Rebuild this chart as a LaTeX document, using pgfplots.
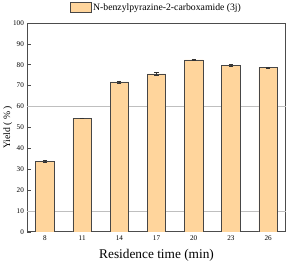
\documentclass[border=0pt]{standalone}
\usepackage{pgfplots}
\pgfplotsset{compat=1.18}
\usepackage{fontspec}
\setmainfont{Liberation Serif}
\definecolor{barfill}{RGB}{255,213,156}
\definecolor{baredge}{RGB}{70,70,70}
\begin{document}
\begin{tikzpicture}
\begin{axis}[
  scale only axis,
  width=252pt, height=204pt,
  xmin=-0.47, xmax=6.47,
  ymin=0, ymax=100,
  ytick={0,10,...,100},
  xtick={0,1,2,3,4,5,6},
  xticklabels={8,11,14,17,20,23,26},
  major x tick style={draw=none},
  tick align=inside,
  major tick length=3pt,
  ytick pos=left,
  axis line style={draw=black!70, line width=0.8pt},
  tick style={black!70, line width=0.6pt},
  tick label style={font=\fontsize{7}{8}\selectfont},
  /pgf/number format/assume math mode=true,
  xlabel={Residence time (min)},
  ylabel={Yield ( \% )},
  xlabel style={font=\fontsize{13}{15}\selectfont, yshift=-2pt},
  ylabel style={font=\fontsize{9.5}{11}\selectfont, yshift=-6pt},
  extra y ticks={10,60},
  extra y tick labels={},
  extra y tick style={grid=major, major grid style={gray!50, line width=0.5pt}, major tick length=0pt},
  legend style={at={(0.5,1.03)}, anchor=south, draw=none, fill=none,
    font=\fontsize{9.5}{11}\selectfont, legend columns=1},
  legend image code/.code={\draw[#1, draw=baredge] (0cm,-0.14cm) rectangle (0.7cm,0.19cm);},
]
\addplot[ybar, bar width=18pt, fill=barfill, draw=baredge, line width=0.6pt,
  error bars/.cd, y dir=both, y explicit,
  error bar style={black!80, line width=0.5pt}, error mark options={rotate=90, mark size=2pt, black!80}]
  coordinates {
  (0,33.8) +- (0,0.5)
  (1,54.5) +- (0,0.1)
  (2,71.8) +- (0,0.5)
  (3,75.6) +- (0,0.8)
  (4,82.3) +- (0,0.2)
  (5,79.8) +- (0,0.4)
  (6,78.7) +- (0,0.3)
  };
\addlegendentry{N-benzylpyrazine-2-carboxamide (3j)}
\end{axis}
\end{tikzpicture}
\end{document}
